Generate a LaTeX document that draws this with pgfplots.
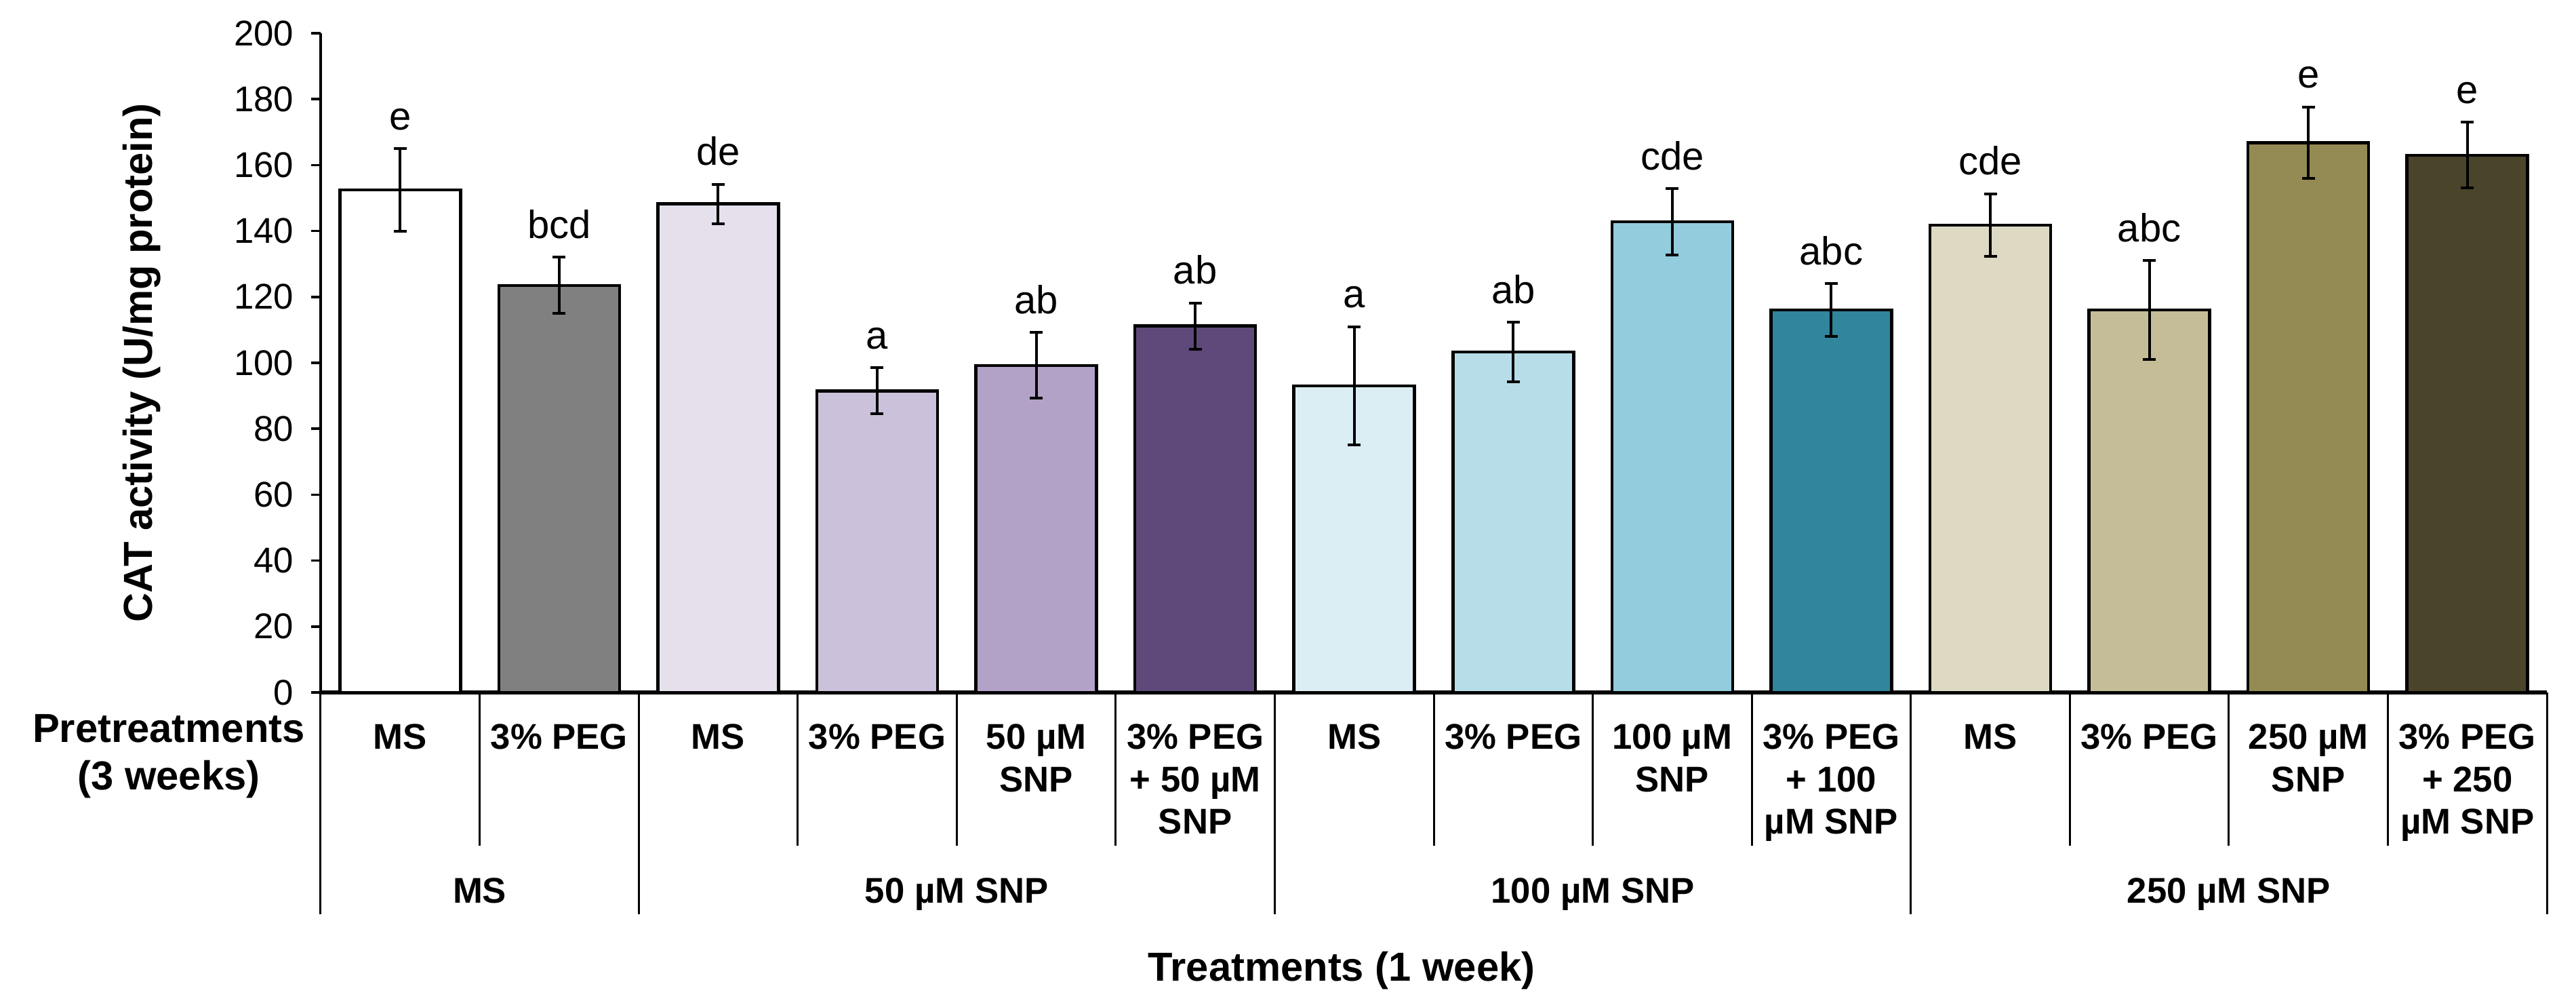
\documentclass[border=0pt]{standalone}
\usepackage{fontspec}
\setmainfont{Liberation Sans}
\usepackage{pgfplots}
\pgfplotsset{compat=1.18}

\definecolor{b0}{HTML}{FFFFFF}
\definecolor{b1}{HTML}{808080}
\definecolor{b2}{HTML}{E5E0EC}
\definecolor{b3}{HTML}{CCC1DA}
\definecolor{b4}{HTML}{B3A2C7}
\definecolor{b5}{HTML}{5F497A}
\definecolor{b6}{HTML}{DBEEF4}
\definecolor{b7}{HTML}{B7DEE8}
\definecolor{b8}{HTML}{93CDDD}
\definecolor{b9}{HTML}{31859C}
\definecolor{b10}{HTML}{DDD9C3}
\definecolor{b11}{HTML}{C4BD97}
\definecolor{b12}{HTML}{948A54}
\definecolor{b13}{HTML}{4A452A}

\pgfplotsset{
  mybar/.style={ybar, bar width=17.8mm, bar shift=0pt, fill=#1, draw=black,
    line width=0.45mm,
    error bars/.cd, y dir=both, y explicit,
    error bar style={line width=0.4mm, black},
    error mark options={line width=0.4mm, mark size=0.95mm, black, rotate=90}},
}

\newcommand\lab[3]{\node[anchor=base, yshift=2.8mm, inner sep=0pt,
  font=\fontsize{16.5}{19}\selectfont] at (axis cs:#1,#2) {#3};}
\newcommand\cat[2]{\node[anchor=north, align=center, inner sep=0pt,
  font=\fontsize{15}{17.8}\selectfont\bfseries] at (axis cs:#1,-9.5) {#2};}

\begin{document}
\begin{tikzpicture}
\begin{axis}[
  scale only axis, width=328.4mm, height=97.2mm,
  xmin=-0.5, xmax=13.5, ymin=0, ymax=200,
  axis lines*=left, clip=false,
  xtick=\empty, ytick={0,20,...,200},
  tick align=outside, major tick length=1.4mm,
  y axis line style={line width=0.4mm},
  x axis line style={line width=0.6mm},
  ytick style={line width=0.35mm, black},
  yticklabel style={font=\fontsize{15}{18}\selectfont, inner sep=0pt, anchor=east, xshift=-2.5mm},
  /pgf/number format/assume math mode=true,
]
\addplot[mybar=b0] coordinates {(0,152.5) +- (0,12.5)};
\addplot[mybar=b1] coordinates {(1,123.5) +- (0,8.5)};
\addplot[mybar=b2] coordinates {(2,148.2) +- (0,6)};
\addplot[mybar=b3] coordinates {(3,91.5) +- (0,7)};
\addplot[mybar=b4] coordinates {(4,99.2) +- (0,10)};
\addplot[mybar=b5] coordinates {(5,111.2) +- (0,7)};
\addplot[mybar=b6] coordinates {(6,93) +- (0,18)};
\addplot[mybar=b7] coordinates {(7,103.3) +- (0,9)};
\addplot[mybar=b8] coordinates {(8,142.8) +- (0,10)};
\addplot[mybar=b9] coordinates {(9,116) +- (0,8)};
\addplot[mybar=b10] coordinates {(10,141.8) +- (0,9.5)};
\addplot[mybar=b11] coordinates {(11,116) +- (0,15)};
\addplot[mybar=b12] coordinates {(12,166.8) +- (0,10.8)};
\addplot[mybar=b13] coordinates {(13,163) +- (0,10)};

% significance letters
\lab{0}{165}{e}
\lab{1}{132}{bcd}
\lab{2}{154.2}{de}
\lab{3}{98.5}{a}
\lab{4}{109.2}{ab}
\lab{5}{118.2}{ab}
\lab{6}{111}{a}
\lab{7}{112.3}{ab}
\lab{8}{152.8}{cde}
\lab{9}{124}{abc}
\lab{10}{151.3}{cde}
\lab{11}{131}{abc}
\lab{12}{177.6}{e}
\lab{13}{173}{e}

% table lines under the axis
\pgfplotsinvokeforeach{0.5,2.5,3.5,4.5,6.5,7.5,8.5,10.5,11.5,12.5}{
  \draw[line width=0.3mm] (axis cs:#1,0) -- (axis cs:#1,-46.5);
}
\pgfplotsinvokeforeach{-0.5,1.5,5.5,9.5,13.5}{
  \draw[line width=0.3mm] (axis cs:#1,0) -- (axis cs:#1,-67.3);
}

% pretreatment labels
\cat{0}{MS}
\cat{1}{3\% PEG}
\cat{2}{MS}
\cat{3}{3\% PEG}
\cat{4}{50 µM\\SNP}
\cat{5}{3\% PEG\\+ 50 µM\\SNP}
\cat{6}{MS}
\cat{7}{3\% PEG}
\cat{8}{100 µM\\SNP}
\cat{9}{3\% PEG\\+ 100\\µM SNP}
\cat{10}{MS}
\cat{11}{3\% PEG}
\cat{12}{250 µM\\SNP}
\cat{13}{3\% PEG\\+ 250\\µM SNP}

% treatment groups
\begin{scope}[every node/.style={anchor=north, inner sep=0pt,
  font=\fontsize{15}{18}\selectfont\bfseries}]
\node at (axis cs:0.5,-56.2) {MS};
\node at (axis cs:3.5,-56.2) {50 µM SNP};
\node at (axis cs:7.5,-56.2) {100 µM SNP};
\node at (axis cs:11.5,-56.2) {250 µM SNP};
\end{scope}

\node[anchor=north, align=center, inner sep=0pt,
  font=\fontsize{17}{19.9}\selectfont\bfseries] at (axis cs:-1.455,-6.6)
  {Pretreatments\\(3 weeks)};
\node[anchor=north, inner sep=0pt, font=\fontsize{17}{20}\selectfont\bfseries]
  at (axis cs:5.92,-78.4) {Treatments (1 week)};
\node[rotate=90, inner sep=0pt, font=\fontsize{17}{20}\selectfont\bfseries]
  at (axis cs:-1.625,100) {CAT activity (U/mg protein)};
\end{axis}
\pgfresetboundingbox
\path (-47.3mm,-45.2mm) rectangle (332.7mm,102.1mm);
\end{tikzpicture}
\end{document}
